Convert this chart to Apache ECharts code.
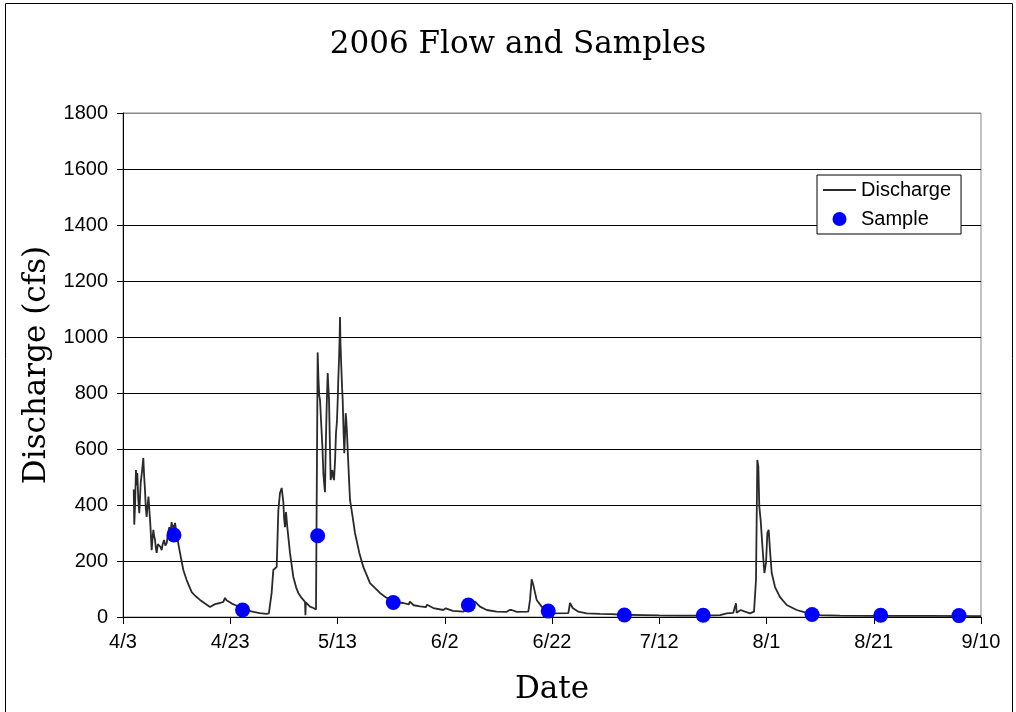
<!DOCTYPE html>
<html>
<head>
<meta charset="utf-8">
<script src="https://cdn.jsdelivr.net/npm/echarts@6/dist/echarts.min.js"></script>
<style>html,body{margin:0;padding:0;background:#fff;}#c{width:1016px;height:712px;}</style>
</head>
<body>
<div id="c"></div>
<script>
// x values are days after 4/3/2006
var tickLabels = ['4/3','4/23','5/13','6/2','6/22','7/12','8/1','8/21','9/10'];
var dischargeDay = [2.00,2.10,2.25,2.42,2.55,2.67,2.85,3.04,3.30,3.55,3.79,3.95,4.10,4.25,4.41,4.60,4.75,4.91,5.10,5.35,5.50,5.66,5.80,5.97,6.10,6.28,6.50,6.77,7.00,7.21,7.40,7.65,7.90,8.15,8.40,8.64,8.85,9.07,9.20,9.38,9.55,9.70,9.90,10.13,10.63,11.25,11.87,12.81,13.50,14.36,15.30,16.22,17.16,18.09,18.71,19.02,19.30,19.64,20.30,20.89,22.13,23.20,24.30,25.50,26.79,27.20,27.41,27.72,28.03,28.35,28.66,28.97,29.28,29.59,29.90,30.05,30.21,30.40,30.64,31.14,31.76,32.30,32.69,33.30,33.94,34.02,34.10,34.87,35.50,35.99,36.20,36.30,36.45,36.60,36.74,37.05,37.20,37.36,37.50,37.67,37.80,37.98,38.17,38.30,38.42,38.60,38.73,38.90,39.04,39.20,39.35,39.55,39.72,39.90,40.04,40.15,40.28,40.40,40.47,40.55,40.71,40.85,40.97,41.10,41.27,41.40,41.53,41.65,41.77,41.96,42.33,42.83,43.26,44.07,44.81,46.06,47.92,49.00,50.40,51.30,52.27,53.30,53.50,54.20,55.38,56.50,56.70,57.87,59.73,60.20,61.50,63.46,64.00,65.00,65.64,66.57,67.82,69.68,71.50,72.10,72.48,73.42,75.58,75.90,76.21,76.52,77.14,78.07,79.50,80.25,83.05,83.36,83.86,84.91,86.47,88.95,91.00,93.50,97.00,100.0,104.0,108.0,111.33,112.58,113.80,114.31,114.43,114.74,115.17,115.99,116.92,117.67,118.04,118.29,118.48,118.66,118.91,119.29,119.60,119.91,120.16,120.41,120.65,120.97,121.59,122.52,123.77,125.63,127.50,129.98,133.71,140.0,150.0,160.0];
var dischargeCfs = [455,330,400,525,470,514,420,371,480,520,568,500,454,390,357,400,430,425,330,239,280,311,290,275,250,229,260,264,250,239,260,275,255,264,300,321,300,339,320,329,310,336,310,282,229,168,132,89,75,61,48,36,46,50,54,68,60,54,48,43,32,24,18,14,11,13,18,86,168,175,179,382,443,461,411,350,321,375,321,229,143,105,86,68,54,6,52,37,32,27,27,945,850,790,775,657,600,514,480,446,600,750,871,820,775,600,489,510,525,500,489,560,657,700,775,850,918,1000,1071,980,893,820,775,680,585,650,728,700,657,571,418,357,300,229,179,121,86,70,58,52,50,45,55,42,38,35,44,32,25,31,22,19,25,48,55,37,25,19,18,25,25,18,19,61,135,114,61,37,22,13,14,50,32,19,13,11,10,8,7,6,5,5,7,13,15,49,15,19,25,19,13,19,132,561,537,394,346,239,157,193,300,311,239,157,107,71,43,25,15,7,5,4,4,3];
var sampleDay = [9.5,22.3,36.3,50.4,64.4,79.3,93.5,108.2,128.5,141.3,155.9];
var sampleCfs = [293,25,290,52,43,21,7,6,9,6,5];

var dischargeData = dischargeDay.map(function(d,i){return [d, dischargeCfs[i]];});
var sampleData = sampleDay.map(function(d,i){return [d, sampleCfs[i]];});

var chart = echarts.init(document.getElementById('c'));
var gridColors = ['#000','#000','#000','#000','#000','#000','#000','#000','#000','#888'];
chart.setOption({
  animation: false,
  backgroundColor: '#fff',
  title: {
    text: '2006 Flow and Samples',
    left: 513, top: 24, textAlign: 'center',
    textStyle: {fontFamily: 'DejaVu Serif', fontSize: 31, fontWeight: 'normal', color: '#000'}
  },
  graphic: [{
    type: 'rect', silent: true, z: -1,
    shape: {x: 5.5, y: 3.5, width: 1007, height: 720},
    style: {fill: 'none', stroke: '#000', lineWidth: 1}
  }],
  grid: {left: 123, right: 35, top: 113, bottom: 95, show: true, borderColor: '#888', borderWidth: 1, backgroundColor: 'transparent'},
  legend: {
    orient: 'vertical', left: 817, top: 175,
    padding: [5, 10, 5, 5], itemWidth: 33, itemHeight: 14, itemGap: 9,
    backgroundColor: '#fff', borderColor: '#000', borderWidth: 1, borderRadius: 0,
    textStyle: {fontFamily: 'Liberation Sans', fontSize: 20, color: '#000'},
    data: [{name: 'Discharge', itemStyle: {opacity: 0}}, {name: 'Sample'}]
  },
  xAxis: {
    type: 'value', min: 0, max: 160, interval: 20,
    name: 'Date', nameLocation: 'middle', nameGap: 57,
    nameTextStyle: {fontFamily: 'DejaVu Serif', fontSize: 31, color: '#000'},
    axisLine: {lineStyle: {color: '#000', width: 1}},
    axisTick: {length: 7, lineStyle: {color: '#000'}},
    axisLabel: {margin: 15, fontFamily: 'Liberation Sans', fontSize: 20, color: '#000',
      formatter: function(v){ return tickLabels[Math.round(v/20)]; }},
    splitLine: {show: false}
  },
  yAxis: {
    type: 'value', min: 0, max: 1800, interval: 200,
    name: 'Discharge (cfs)', nameLocation: 'middle', nameGap: 68, nameRotate: 90,
    nameTextStyle: {fontFamily: 'DejaVu Serif', fontSize: 31, color: '#000'},
    axisLine: {show: true, lineStyle: {color: '#000', width: 1}},
    axisTick: {show: true, length: 6, lineStyle: {color: '#000'}},
    axisLabel: {margin: 15, fontFamily: 'Liberation Sans', fontSize: 20, color: '#000',
      formatter: function(v){ return String(v); }},
    splitLine: {show: true, lineStyle: {color: gridColors, width: 1}}
  },
  series: [{
    name: 'Discharge', type: 'line', data: dischargeData,
    symbol: 'none', lineStyle: {color: '#2a2a2a', width: 1.8}, itemStyle: {color: '#2a2a2a'}, z: 2
  }, {
    name: 'Sample', type: 'scatter', data: sampleData,
    symbol: 'circle', symbolSize: 15, itemStyle: {color: '#0000FF', opacity: 1}, z: 3
  }]
});
</script>
</body>
</html>
